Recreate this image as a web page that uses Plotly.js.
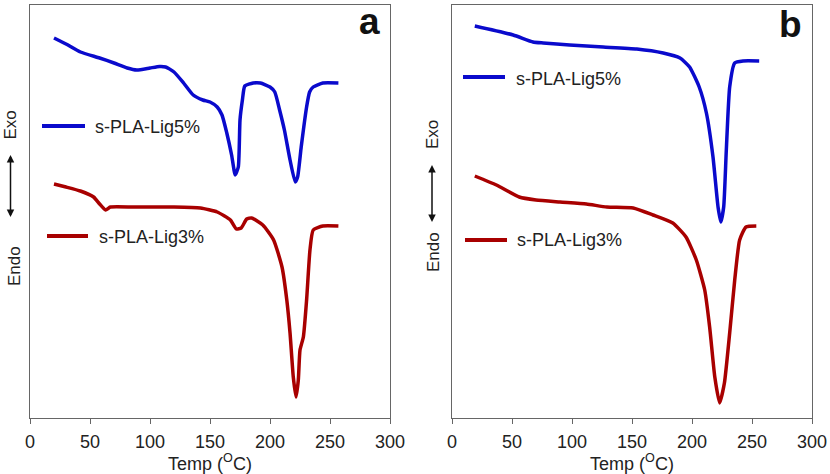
<!DOCTYPE html>
<html><head><meta charset="utf-8">
<script src="https://cdn.plot.ly/plotly-3.0.1.min.js"></script>
<style>html,body{margin:0;padding:0;background:#fff}#chart{width:830px;height:474px}</style>
</head><body><div id="chart"></div>
<script>
// Series names
const seriesNames = ['s-PLA-Lig5%', 's-PLA-Lig3%'];
const xTickVals = [0, 50, 100, 150, 200, 250, 300];
const xTitle = 'Temp (<sup>O</sup>C)';

// Panel a : s-PLA-Lig5%  (temperature °C, heat flow a.u.)
const tempA5 = [20, 30, 42, 58, 70, 81, 89, 100, 108, 113, 120, 128, 136, 144, 150, 156, 160, 164, 168, 171, 173.6, 175, 177, 179, 186, 192, 200, 204, 208, 212, 216.7, 221, 223, 226, 230.5, 233, 236, 244, 257];
const hfA5   = [38.0, 37.4, 36.6, 36.0, 35.5, 35.0, 34.8, 35.0, 35.15, 35.1, 34.6, 33.5, 32.3, 31.8, 31.6, 31.1, 30.3, 28.5, 26.3, 24.3, 25.1, 29.8, 31.8, 33.2, 33.5, 33.5, 33.1, 32.6, 30.8, 28.8, 25.8, 23.6, 24.1, 27.1, 31.1, 32.6, 33.1, 33.5, 33.5];

// Panel a : s-PLA-Lig3%
const tempA3 = [20, 30, 42, 53, 58, 63, 67, 86, 103, 120, 142, 156, 167, 172, 176, 180.6, 184.7, 194, 203, 210, 214, 216.7, 219.4, 221.7, 223.6, 225, 227.8, 230.5, 233.3, 236, 244, 257];
const hfA3   = [23.4, 23.1, 22.7, 22.1, 21.4, 20.8, 21.1, 21.1, 21.1, 21.1, 21.0, 20.6, 19.8, 18.9, 19.0, 19.9, 20.0, 19.3, 17.8, 15.1, 11.8, 8.5, 4.1, 2.1, 3.8, 6.8, 8.1, 11.8, 16.8, 18.8, 19.2, 19.2];

// Panel b : s-PLA-Lig5%
const tempB5 = [19, 51, 67.5, 76, 98, 126, 154, 176, 190, 198, 206, 212, 217.5, 221.7, 224, 226.4, 228.6, 231.4, 235.6, 242.5, 256];
const hfB5   = [39.2, 38.3, 37.6, 37.5, 37.3, 37.1, 36.9, 36.5, 36.0, 35.1, 33.1, 30.5, 26.1, 21.1, 19.6, 21.1, 26.8, 33.1, 35.5, 35.7, 35.7];

// Panel b : s-PLA-Lig3%
const tempB3 = [19, 37, 56, 70, 90, 112, 129, 151, 167.5, 184, 195, 203.6, 210.6, 214.7, 219, 223, 227, 231.4, 235.6, 239.7, 245, 253.6];
const hfB3   = [24.2, 23.3, 22.1, 21.8, 21.6, 21.4, 21.1, 21.0, 20.3, 19.5, 18.1, 15.8, 12.8, 9.1, 4.1, 1.5, 3.5, 8.5, 13.8, 17.8, 19.1, 19.2];

const panelLabels = ['a', 'b'];
const sideLabels = ['Exo', 'Endo'];

// ---- layout helpers ----
const W = 830, H = 474;
const px = v => v / W;
const py = v => (H - v) / H;
const BLUE = '#0a0acc', RED = '#a80000';
const COLORS = [BLUE, RED];
const FONT = 'Liberation Sans, Arial, sans-serif';
const TXT = '#222';

function trace(x, y, color, name, xa, ya) {
  return {x: x, y: y, type: 'scatter', mode: 'lines', name: name,
    line: {color: color, width: 3.5, shape: 'spline', smoothing: 0.5},
    xaxis: xa, yaxis: ya, showlegend: false, hoverinfo: 'x+y'};
}
const data = [
  trace(tempA5, hfA5, BLUE, seriesNames[0], 'x', 'y'),
  trace(tempA3, hfA3, RED, seriesNames[1], 'x', 'y'),
  trace(tempB5, hfB5, BLUE, seriesNames[0], 'x2', 'y2'),
  trace(tempB3, hfB3, RED, seriesNames[1], 'x2', 'y2')
];

const yDom = [py(418), py(5)];
function xax(dom, anchor) {
  return {domain: dom, anchor: anchor, range: [0, 300], tickvals: xTickVals,
    ticks: 'outside', ticklen: 5, tickcolor: '#666', tickwidth: 1,
    showline: true, linecolor: '#666', linewidth: 1, mirror: true,
    showgrid: false, zeroline: false, ticklabelstandoff: 2,
    tickfont: {size: 18, color: TXT},
    title: {text: xTitle, font: {size: 18, color: TXT}, standoff: 0}};
}
function yax(anchor) {
  return {domain: yDom, anchor: anchor, range: [0, 41.3], showticklabels: false,
    ticks: '', showline: true, linecolor: '#666', linewidth: 1, mirror: true,
    showgrid: false, zeroline: false};
}

const annotations = [];
const shapes = [];
// panel letters
annotations.push({xref: 'paper', yref: 'paper', x: px(369), y: py(22), xanchor: 'center', yanchor: 'middle',
  text: '<b>' + panelLabels[0] + '</b>', showarrow: false, font: {size: 37, color: '#111'}});
annotations.push({xref: 'paper', yref: 'paper', x: px(790), y: py(24), xanchor: 'center', yanchor: 'middle',
  text: '<b>' + panelLabels[1] + '</b>', showarrow: false, font: {size: 37, color: '#111'}});

// side labels: "Exo" with double arrow, "Endo"
[[10.5, 125, 14, 266, 155, 217], [432, 135, 434, 252, 161, 222]].forEach(s => {
  annotations.push({xref: 'paper', yref: 'paper', x: px(s[0]), y: py(s[5]), ax: 0, ay: s[1] - s[5],
    text: sideLabels[0], textangle: -90, showarrow: true, arrowhead: 2, startarrowhead: 2,
    arrowside: 'end+start', arrowsize: 1, arrowwidth: 1.5, arrowcolor: '#111',
    startstandoff: 14, standoff: 0,
    font: {size: 17, color: TXT}});
  annotations.push({xref: 'paper', yref: 'paper', x: px(s[2]), y: py(s[3]), text: sideLabels[1], textangle: -90,
    showarrow: false, xanchor: 'center', yanchor: 'middle', font: {size: 17, color: TXT}});
});

// in-panel legends: [series index, line x0, line x1, line y, text x, text y]
const legendPos = [[0, 42, 85, 126, 93, 127], [1, 47, 88, 236, 97, 237], [0, 463, 505, 77, 514, 79], [1, 465, 507, 240, 515, 240]];
legendPos.forEach(l => {
  shapes.push({type: 'line', xref: 'paper', yref: 'paper', x0: px(l[1]), x1: px(l[2]), y0: py(l[3]), y1: py(l[3]),
    line: {color: COLORS[l[0]], width: 4}});
  annotations.push({xref: 'paper', yref: 'paper', x: px(l[4]), y: py(l[5]), xanchor: 'left', yanchor: 'middle',
    text: seriesNames[l[0]], showarrow: false, font: {size: 18, color: TXT}});
});

const layout = {
  width: W, height: H, margin: {l: 0, r: 0, t: 0, b: 0},
  paper_bgcolor: '#fff', plot_bgcolor: '#fff',
  font: {family: FONT, color: TXT},
  showlegend: false,
  xaxis: xax([px(30), px(390)], 'y'),
  yaxis: yax('x'),
  xaxis2: xax([px(452), px(812)], 'y2'),
  yaxis2: yax('x2'),
  annotations: annotations,
  shapes: shapes
};

Plotly.newPlot('chart', data, layout, {displayModeBar: false, staticPlot: true});
</script>
</body></html>
